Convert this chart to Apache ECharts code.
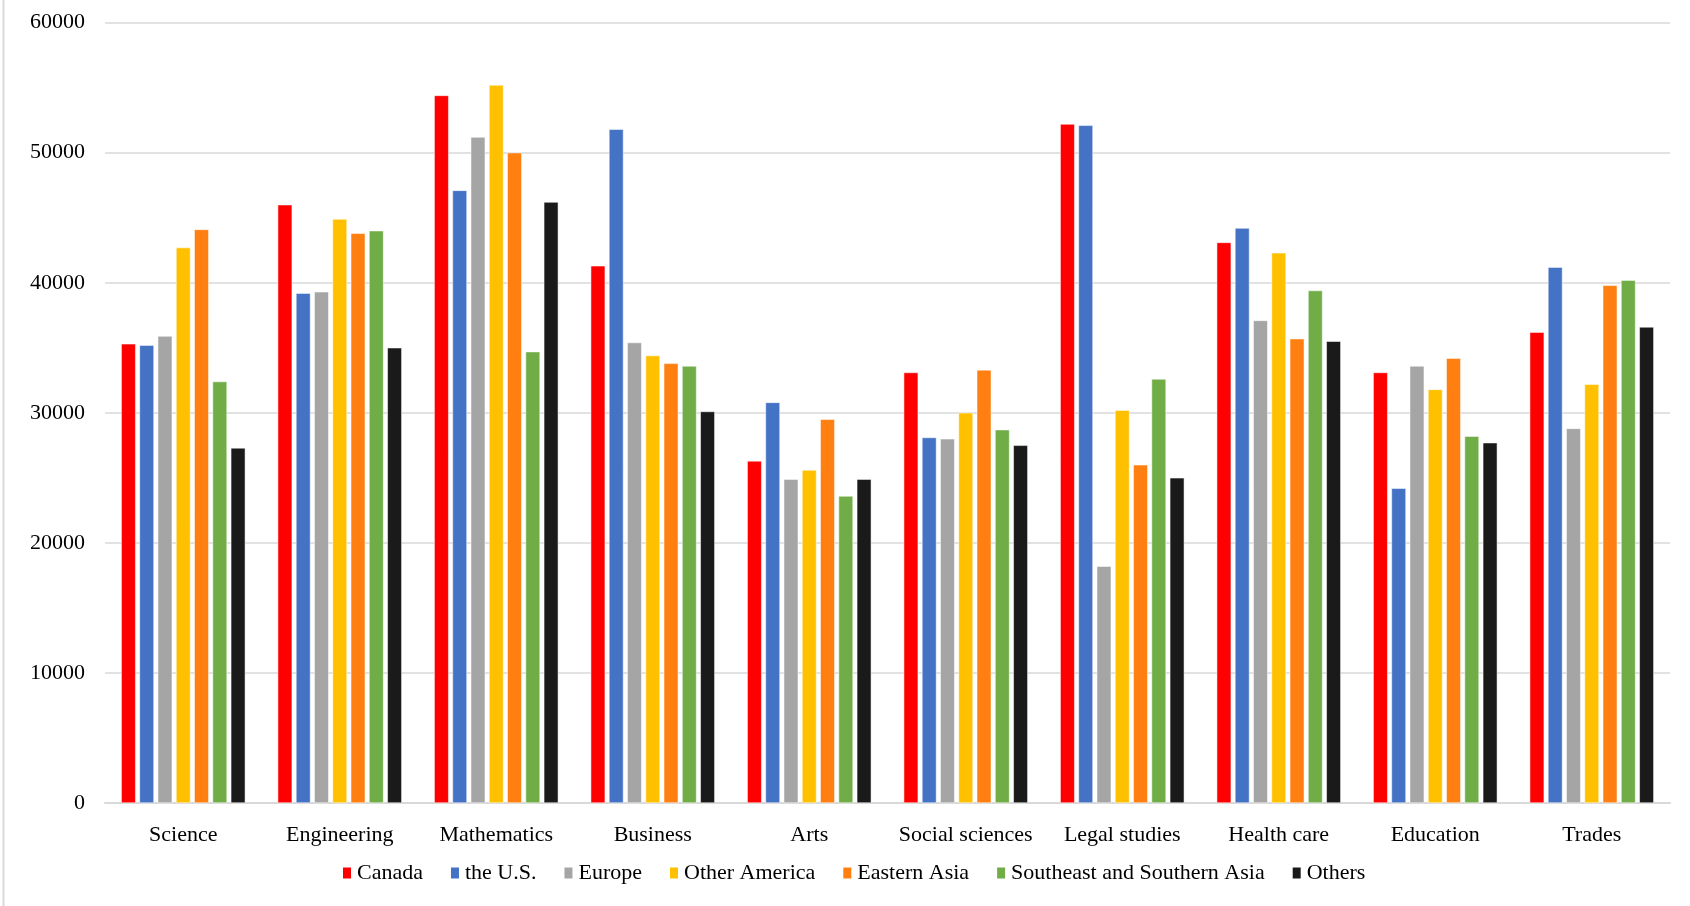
<!DOCTYPE html>
<html>
<head>
<meta charset="utf-8">
<style>
  html, body { margin: 0; padding: 0; background: #ffffff; }
  #chart { width: 1690px; height: 906px; }
</style>
<script src="https://cdn.jsdelivr.net/npm/echarts@6/dist/echarts.min.js"></script>
</head>
<body>
<div id="chart"></div>
<script>
const categories = ['Science', 'Engineering', 'Mathematics', 'Business', 'Arts', 'Social sciences', 'Legal studies', 'Health care', 'Education', 'Trades'];
const seriesNames = ['Canada', 'the U.S.', 'Europe', 'Other America', 'Eastern Asia', 'Southeast and Southern Asia', 'Others'];
const canada        = [35300, 46000, 54400, 41300, 26300, 33100, 52200, 43100, 33100, 36200];
const theUS         = [35200, 39200, 47100, 51800, 30800, 28100, 52100, 44200, 24200, 41200];
const europe        = [35900, 39300, 51200, 35400, 24900, 28000, 18200, 37100, 33600, 28800];
const otherAmerica  = [42700, 44900, 55200, 34400, 25600, 30000, 30200, 42300, 31800, 32200];
const easternAsia   = [44100, 43800, 50000, 33800, 29500, 33300, 26000, 35700, 34200, 39800];
const seAsia        = [32400, 44000, 34700, 33600, 23600, 28700, 32600, 39400, 28200, 40200];
const others        = [27300, 35000, 46200, 30100, 24900, 27500, 25000, 35500, 27700, 36600];
const yTicks = [0, 10000, 20000, 30000, 40000, 50000, 60000];

const seriesData = [canada, theUS, europe, otherAmerica, easternAsia, seAsia, others];
const colors = ['#FF0000', '#4472C4', '#A5A5A5', '#FFC000', '#FF7F10', '#70AD47', '#1A1A1A'];
const font = 'Liberation Serif';

const chart = echarts.init(document.getElementById('chart'), null, { renderer: 'canvas' });
chart.setOption({
  backgroundColor: '#ffffff',
  animation: false,
  color: colors,
  textStyle: { fontFamily: font, color: '#000' },
  grid: { left: 105, right: 20, top: 22.6, bottom: 103, containLabel: false },
  legend: {
    data: seriesNames,
    left: 336,
    top: 857,
    itemWidth: 10,
    itemHeight: 13,
    itemGap: 26,
    icon: 'rect',
    textStyle: { fontFamily: font, fontSize: 22, color: '#000' }
  },
  xAxis: {
    type: 'category',
    data: categories,
    axisLine: { lineStyle: { color: '#D9D9D9', width: 2 } },
    axisTick: { show: false },
    axisLabel: { interval: 0, fontFamily: font, fontSize: 22, color: '#000', margin: 21 }
  },
  yAxis: {
    type: 'value',
    min: yTicks[0],
    max: yTicks[yTicks.length - 1],
    interval: yTicks[1] - yTicks[0],
    axisLine: { show: false },
    axisTick: { show: false },
    splitLine: { lineStyle: { color: '#D9D9D9', width: 1.5 } },
    axisLabel: { fontFamily: font, fontSize: 22, color: '#000', margin: 20, formatter: v => String(v) }
  },
  graphic: [{
    type: 'line',
    shape: { x1: 3.5, y1: 0, x2: 3.5, y2: 906 },
    style: { stroke: '#D9D9D9', lineWidth: 2 }
  }],
  series: seriesNames.map((name, i) => ({
    name: name,
    type: 'bar',
    data: seriesData[i],
    barWidth: 14.5,
    barGap: '26%',
    itemStyle: { color: colors[i], borderColor: '#ffffff', borderWidth: 0.5 }
  }))
});
</script>
</body>
</html>
